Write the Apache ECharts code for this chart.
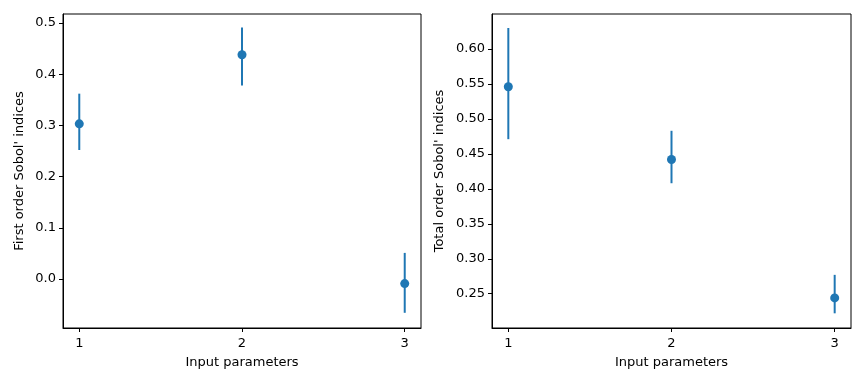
<!DOCTYPE html>
<html>
<head>
<meta charset="utf-8">
<script src="https://cdn.jsdelivr.net/npm/echarts@6/dist/echarts.min.js"></script>
<style>html,body{margin:0;padding:0;background:#fff}#c{width:864px;height:384px}</style>
</head>
<body>
<div id="c"></div>
<script>
const params = [1, 2, 3];
const xTicks = [1, 2, 3];
const firstMean = [0.303, 0.438, -0.009];
const firstLow = [0.252, 0.378, -0.066];
const firstHigh = [0.362, 0.491, 0.051];
const totalMean = [0.546, 0.442, 0.244];
const totalLow = [0.471, 0.408, 0.222];
const totalHigh = [0.630, 0.483, 0.277];
const firstTicks = [0.0, 0.1, 0.2, 0.3, 0.4, 0.5];
const totalTicks = [0.25, 0.30, 0.35, 0.40, 0.45, 0.50, 0.55, 0.60];

const C = '#1f77b4';
const FONT = 'DejaVu Sans';
const txt = {color: '#000', fontFamily: FONT, fontSize: 13};

function xAxis(gi) {
  return {
    type: 'value', gridIndex: gi, min: 0.9, max: 3.1,
    name: 'Input parameters', nameLocation: 'middle', nameGap: 28,
    nameTextStyle: txt,
    axisLine: {show: true, onZero: false, lineStyle: {color: '#000', width: 1}},
    axisTick: {show: true, length: 4, customValues: xTicks, lineStyle: {color: '#000'}},
    axisLabel: Object.assign({customValues: xTicks, margin: 9, formatter: v => String(v)}, txt),
    splitLine: {show: false}
  };
}
function yAxis(gi, name, min, max, ticks, dec, gap) {
  return {
    type: 'value', gridIndex: gi, min: min, max: max,
    name: name, nameLocation: 'middle', nameGap: gap, nameTextStyle: txt,
    axisLine: {show: true, onZero: false, lineStyle: {color: '#000', width: 1}},
    axisTick: {show: true, length: 4, customValues: ticks, lineStyle: {color: '#000'}},
    axisLabel: Object.assign({customValues: ticks, margin: 7, formatter: v => Number(v).toFixed(dec)}, txt),
    splitLine: {show: false}
  };
}
function errSeries(ai, low, high) {
  return {
    type: 'custom', xAxisIndex: ai, yAxisIndex: ai,
    data: params.map((v, i) => [v, low[i], high[i]]),
    encode: {x: 0, y: [1, 2]},
    renderItem: function (p, api) {
      const a = api.coord([api.value(0), api.value(1)]);
      const b = api.coord([api.value(0), api.value(2)]);
      return {type: 'line', shape: {x1: a[0], y1: a[1], x2: b[0], y2: b[1]},
        style: {stroke: C, lineWidth: 2}};
    },
    silent: true, z: 2
  };
}
function ptSeries(ai, mean) {
  return {
    type: 'scatter', xAxisIndex: ai, yAxisIndex: ai,
    data: params.map((v, i) => [v, mean[i]]),
    symbol: 'circle', symbolSize: 9, itemStyle: {color: C, opacity: 1}, z: 3, silent: true
  };
}

const chart = echarts.init(document.getElementById('c'), null, {renderer: 'canvas'});
chart.setOption({
  animation: false,
  backgroundColor: '#fff',
  grid: [
    {left: 63, top: 14, width: 358, height: 314, show: true, borderColor: '#000', borderWidth: 1, backgroundColor: 'transparent'},
    {left: 492, top: 14, width: 359, height: 314, show: true, borderColor: '#000', borderWidth: 1, backgroundColor: 'transparent'}
  ],
  xAxis: [xAxis(0), xAxis(1)],
  yAxis: [
    yAxis(0, "First order Sobol' indices", -0.0957, 0.5176, firstTicks, 1, 37),
    yAxis(1, "Total order Sobol' indices", 0.201, 0.650, totalTicks, 2, 46)
  ],
  series: [
    errSeries(0, firstLow, firstHigh), ptSeries(0, firstMean),
    errSeries(1, totalLow, totalHigh), ptSeries(1, totalMean)
  ]
});
</script>
</body>
</html>
